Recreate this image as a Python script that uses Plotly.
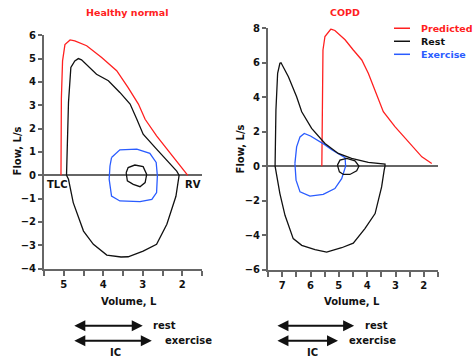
import plotly.graph_objects as go

# ---------------- data ----------------
# Healthy normal
hn_pred_vol = [5.07, 5.07, 5.06, 5.03, 4.97, 4.84, 4.72, 4.42, 4.04, 3.66, 3.37, 3.11, 2.94, 2.65, 2.31, 2.06, 1.86]
hn_pred_flow = [0, 2.0, 3.3, 4.9, 5.6, 5.8, 5.76, 5.55, 5.05, 4.48, 3.76, 3.05, 2.4, 1.69, 0.97, 0.4, 0.0]

hn_max_vol = [4.93, 4.90, 4.88, 4.82, 4.72, 4.63, 4.55, 4.17, 3.87, 3.58, 3.32, 3.15, 2.99, 2.65, 2.35, 2.14, 2.08,
              2.12, 2.16, 2.39, 2.65, 2.99, 3.37, 3.55, 3.91, 4.25, 4.50, 4.76, 4.88, 4.93]
hn_max_flow = [0, 1.5, 3.12, 4.62, 4.9, 5.0, 4.95, 4.33, 4.05, 3.55, 3.05, 2.4, 1.76, 1.12, 0.55, 0.18, 0,
               -0.5, -0.9, -2.1, -2.96, -3.25, -3.49, -3.5, -3.42, -2.96, -2.39, -1.17, -0.17, 0]

hn_ex_vol = [3.79, 3.58, 3.15, 2.82, 2.66, 2.63, 2.65, 2.77, 3.07, 3.58, 3.79, 3.85, 3.83, 3.79]
hn_ex_flow = [0.76, 1.09, 1.12, 0.94, 0.55, -0.03, -0.74, -1.03, -1.13, -1.1, -0.89, -0.17, 0.4, 0.76]

hn_rest_vol = [3.42, 3.37, 3.2, 2.99, 2.9, 2.94, 3.07, 3.24, 3.39, 3.42]
hn_rest_flow = [0.11, 0.33, 0.44, 0.37, 0.04, -0.31, -0.49, -0.39, -0.24, 0.11]

# COPD
cp_pred_vol = [5.6, 5.59, 5.58, 5.56, 5.49, 5.28, 5.14, 4.78, 4.49, 4.19, 3.96, 3.72, 3.43, 3.02, 2.55, 2.07, 1.72]
cp_pred_flow = [0, 2.29, 4.5, 6.74, 7.52, 7.95, 7.87, 7.33, 6.74, 6.16, 5.39, 4.42, 3.16, 2.29, 1.41, 0.54, 0.16]

cp_max_vol = [7.25, 7.22, 7.16, 7.08, 7.04, 6.78, 6.49, 6.31, 5.96, 5.49, 5.02, 4.55, 3.96, 3.37, 3.37,
              3.40, 3.49, 3.72, 4.08, 4.49, 4.90, 5.43, 5.84, 6.31, 6.61, 6.90, 7.08, 7.19, 7.25]
cp_max_flow = [0, 3.26, 5.39, 5.97, 6.0, 5.19, 4.03, 3.16, 2.19, 1.32, 0.74, 0.45, 0.22, 0.12, 0,
               -0.23, -1.2, -2.75, -3.62, -4.46, -4.73, -4.98, -4.84, -4.59, -4.2, -2.85, -1.59, -0.62, 0]

cp_ex_vol = [6.55, 6.49, 6.37, 6.22, 6.0, 5.78, 5.5, 5.25, 5.0, 4.78, 4.76, 4.86, 4.90, 5.14, 5.55, 6.02, 6.37, 6.51, 6.55]
cp_ex_flow = [0.16, 1.12, 1.7, 1.9, 1.75, 1.55, 1.25, 0.95, 0.72, 0.5, 0.0, -0.52, -0.72, -1.3, -1.63, -1.74, -1.49, -0.81, 0.16]

cp_rest_vol = [5.05, 4.96, 4.72, 4.43, 4.29, 4.37, 4.61, 4.84, 4.98, 5.05]
cp_rest_flow = [0.06, 0.35, 0.45, 0.31, 0, -0.27, -0.48, -0.48, -0.33, 0.06]

# inspiratory capacity arrows (volume from, volume to)
hn_ic_rest = (4.77, 3.0)
hn_ic_ex = (4.77, 2.77)
cp_ic_rest = (7.22, 4.46)
cp_ic_ex = (7.22, 5.03)

panel_titles = ["Healthy normal", "COPD"]
legend_names = ["Predicted", "Rest", "Exercise"]

RED = "#ff2020"
BLACK = "#111111"
BLUE = "#2a5cff"
AX = "#666666"
FONT = "DejaVu Sans"

W, H = 473, 362
SQ = 0.968   # vertical compensation observed in the rendering pipeline
CY = 181.0
def px(x):
    return x / W
def py(y):
    return 1 - (CY + (y - CY) / SQ) / H

fig = go.Figure()

def add(vol, flow, color, xa, ya):
    fig.add_trace(go.Scatter(x=vol, y=flow, mode="lines", line=dict(color=color, width=1.3),
                             xaxis=xa, yaxis=ya, showlegend=False, hoverinfo="skip"))

add(hn_pred_vol, hn_pred_flow, RED, "x", "y")
add(hn_max_vol, hn_max_flow, BLACK, "x", "y")
add(hn_ex_vol, hn_ex_flow, BLUE, "x", "y")
add(hn_rest_vol, hn_rest_flow, BLACK, "x", "y")

add(cp_pred_vol, cp_pred_flow, RED, "x2", "y2")
add(cp_ex_vol, cp_ex_flow, BLUE, "x2", "y2")
add(cp_max_vol, cp_max_flow, BLACK, "x2", "y2")
add(cp_rest_vol, cp_rest_flow, BLACK, "x2", "y2")

tickfont = dict(family=FONT, size=10, color=BLACK, weight="bold")
common_x = dict(autorange=False, showline=True, linecolor=AX, linewidth=2, ticks="outside", ticklen=5,
                tickwidth=1.5, tickcolor=AX, dtick=1, tick0=0, showgrid=False, zeroline=False,
                tickfont=tickfont, minor=dict(dtick=0.5, tick0=0, ticks="outside", ticklen=5, tickwidth=1.5, tickcolor=AX))
common_y = dict(autorange=False, showline=True, linecolor=AX, linewidth=2, ticks="outside", ticklen=4,
                tickwidth=1.5, tickcolor=AX, showgrid=False, zeroline=True, zerolinecolor=AX, zerolinewidth=2,
                tickfont=tickfont)

fig.update_layout(
    width=W, height=H, autosize=False, margin=dict(l=0, r=0, t=0, b=0),
    paper_bgcolor="white", plot_bgcolor="white", showlegend=False,
    xaxis=dict(domain=[px(44), px(202)], range=[5.5, 1.5], anchor="y", **common_x),
    yaxis=dict(domain=[py(269), py(36)], range=[-4, 6], dtick=1, anchor="x", **common_y),
    xaxis2=dict(domain=[px(268), px(438)], range=[7.5, 1.5], anchor="y2", **common_x),
    yaxis2=dict(domain=[py(270), py(29)], range=[-6, 8], dtick=2, anchor="x2", **common_y),
)

def text(x, y, s, color=BLACK, size=10, xanchor="center", angle=0):
    fig.add_annotation(x=px(x), y=py(y), xref="paper", yref="paper", text=s, showarrow=False,
                       xanchor=xanchor, yanchor="middle", textangle=angle,
                       font=dict(family=FONT, size=size, color=color, weight="bold"))

# titles
text(127, 13, panel_titles[0], RED, size=9.5)
text(345, 13, panel_titles[1], RED, size=9.5)
# axis titles
text(17, 152, "Flow, L/s", angle=-90)
text(240, 150, "Flow, L/s", angle=-90)
text(129, 302, "Volume, L")
text(352, 302, "Volume, L")
# TLC / RV
text(57, 185, "TLC")
text(193, 185, "RV")

# legend
for name, col, yy in zip(legend_names, [RED, BLACK, BLUE], [29, 42, 55]):
    fig.add_shape(type="line", xref="paper", yref="paper", x0=px(394), x1=px(410), y0=py(yy), y1=py(yy),
                  line=dict(color=col, width=1.5))
    text(419, yy, name, col, size=9.5, xanchor="left")

# IC arrows
def arrow(xa, rng, yy):
    fig.add_annotation(x=rng[1], ax=rng[0], xref=xa, axref=xa, y=py(yy), yref="paper", ay=0, ayref="pixel",
                       text="", showarrow=True, arrowhead=2, arrowside="end+start", arrowsize=1.1,
                       arrowwidth=2, arrowcolor=BLACK, standoff=0, startstandoff=0)

arrow("x", hn_ic_rest, 326)
arrow("x", hn_ic_ex, 341)
arrow("x2", cp_ic_rest, 326)
arrow("x2", cp_ic_ex, 341)
text(151, 326, "rest", xanchor="left")
text(163, 341, "exercise", xanchor="left")
text(115, 353, "IC")
text(363, 326, "rest", xanchor="left")
text(347, 341, "exercise", xanchor="left")
text(312, 353, "IC")

fig.write_html("out.html",
               config={"displayModeBar": False, "responsive": False},
               post_script="document.body.style.margin='0';document.body.style.overflow='hidden';")
